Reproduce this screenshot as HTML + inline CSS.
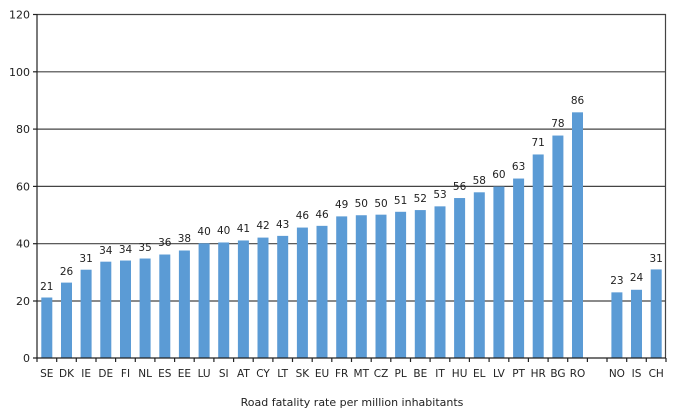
<!DOCTYPE html>
<html><head><meta charset="utf-8"><style>
html,body{margin:0;padding:0;background:#fff;}
svg{display:block;font-family:"DejaVu Sans","Liberation Sans",sans-serif;}
</style></head><body>
<svg width="675" height="410" viewBox="0 0 675 410" xmlns="http://www.w3.org/2000/svg">
<g stroke="#444" stroke-width="1.2">
<line x1="37" y1="14.5" x2="666" y2="14.5"/>
<line x1="37" y1="71.8" x2="666" y2="71.8"/>
<line x1="37" y1="129.1" x2="666" y2="129.1"/>
<line x1="37" y1="186.4" x2="666" y2="186.4"/>
<line x1="37" y1="243.7" x2="666" y2="243.7"/>
<line x1="37" y1="301" x2="666" y2="301"/>
<line x1="665.5" y1="14" x2="665.5" y2="358"/>
</g>
<g transform="translate(0,358) scale(1,-2.8667)" fill="#5b9bd5">
<rect x="41.3" y="0" width="11" height="21.1"/>
<rect x="61" y="0" width="11" height="26.3"/>
<rect x="80.6" y="0" width="11" height="30.8"/>
<rect x="100.3" y="0" width="11" height="33.6"/>
<rect x="120" y="0" width="11" height="34"/>
<rect x="139.6" y="0" width="11" height="34.7"/>
<rect x="159.3" y="0" width="11" height="36.1"/>
<rect x="178.9" y="0" width="11" height="37.5"/>
<rect x="198.6" y="0" width="11" height="40"/>
<rect x="218.2" y="0" width="11" height="40.3"/>
<rect x="237.9" y="0" width="11" height="41"/>
<rect x="257.5" y="0" width="11" height="42"/>
<rect x="277.2" y="0" width="11" height="42.6"/>
<rect x="296.9" y="0" width="11" height="45.5"/>
<rect x="316.5" y="0" width="11" height="46.1"/>
<rect x="336.2" y="0" width="11" height="49.4"/>
<rect x="355.8" y="0" width="11" height="49.8"/>
<rect x="375.5" y="0" width="11" height="50"/>
<rect x="395.1" y="0" width="11" height="51"/>
<rect x="414.8" y="0" width="11" height="51.6"/>
<rect x="434.5" y="0" width="11" height="52.9"/>
<rect x="454.1" y="0" width="11" height="55.8"/>
<rect x="473.8" y="0" width="11" height="57.8"/>
<rect x="493.4" y="0" width="11" height="59.8"/>
<rect x="513.1" y="0" width="11" height="62.6"/>
<rect x="532.7" y="0" width="11" height="71"/>
<rect x="552.4" y="0" width="11" height="77.6"/>
<rect x="572" y="0" width="11" height="85.7"/>
<rect x="611.4" y="0" width="11" height="22.9"/>
<rect x="631" y="0" width="11" height="23.8"/>
<rect x="650.7" y="0" width="11" height="30.9"/>
</g>
<g stroke="#222" stroke-width="1.2">
<line x1="37" y1="14" x2="37" y2="358"/>
<line x1="33" y1="358" x2="666" y2="358"/>
<line x1="33" y1="14.5" x2="37" y2="14.5"/><line x1="33" y1="71.8" x2="37" y2="71.8"/><line x1="33" y1="129.1" x2="37" y2="129.1"/><line x1="33" y1="186.4" x2="37" y2="186.4"/><line x1="33" y1="243.7" x2="37" y2="243.7"/><line x1="33" y1="301" x2="37" y2="301"/>
<path d="M37 358v4M56.7 358v4M76.3 358v4M96 358v4M115.6 358v4M135.3 358v4M154.9 358v4M174.6 358v4M194.2 358v4M213.9 358v4M233.6 358v4M253.2 358v4M272.9 358v4M292.5 358v4M312.2 358v4M331.8 358v4M351.5 358v4M371.2 358v4M390.8 358v4M410.5 358v4M430.1 358v4M449.8 358v4M469.4 358v4M489.1 358v4M508.8 358v4M528.4 358v4M548.1 358v4M567.7 358v4M587.4 358v4M607 358v4M626.7 358v4M646.3 358v4M666 358v4"/>
</g>
<g font-size="11" fill="#222" text-anchor="end">
<text x="30" y="18.5">120</text><text x="30" y="75.8">100</text><text x="30" y="133">80</text><text x="30" y="190.4">60</text><text x="30" y="247.7">40</text><text x="30" y="305">20</text><text x="30" y="362">0</text>
</g>
<g font-size="10.5" fill="#222" text-anchor="middle">
<text x="46.8" y="290">21</text><text x="66.5" y="275">26</text><text x="86.1" y="262">31</text><text x="105.8" y="254">34</text><text x="125.5" y="253">34</text><text x="145.1" y="251">35</text><text x="164.8" y="246">36</text><text x="184.4" y="242">38</text><text x="204.1" y="235">40</text><text x="223.7" y="234">40</text><text x="243.4" y="232">41</text><text x="263" y="229">42</text><text x="282.7" y="228">43</text><text x="302.4" y="219">46</text><text x="322" y="218">46</text><text x="341.7" y="208">49</text><text x="361.3" y="207">50</text><text x="381" y="207">50</text><text x="400.6" y="204">51</text><text x="420.3" y="202">52</text><text x="440" y="198">53</text><text x="459.6" y="190">56</text><text x="479.3" y="184">58</text><text x="498.9" y="178">60</text><text x="518.6" y="170">63</text><text x="538.2" y="146">71</text><text x="557.9" y="127">78</text><text x="577.5" y="104">86</text><text x="616.9" y="284">23</text><text x="636.5" y="281">24</text><text x="656.2" y="262">31</text>
</g>
<g font-size="10.5" fill="#222" text-anchor="middle">
<text x="46.8" y="377">SE</text><text x="66.5" y="377">DK</text><text x="86.1" y="377">IE</text><text x="105.8" y="377">DE</text><text x="125.5" y="377">FI</text><text x="145.1" y="377">NL</text><text x="164.8" y="377">ES</text><text x="184.4" y="377">EE</text><text x="204.1" y="377">LU</text><text x="223.7" y="377">SI</text><text x="243.4" y="377">AT</text><text x="263" y="377">CY</text><text x="282.7" y="377">LT</text><text x="302.4" y="377">SK</text><text x="322" y="377">EU</text><text x="341.7" y="377">FR</text><text x="361.3" y="377">MT</text><text x="381" y="377">CZ</text><text x="400.6" y="377">PL</text><text x="420.3" y="377">BE</text><text x="440" y="377">IT</text><text x="459.6" y="377">HU</text><text x="479.3" y="377">EL</text><text x="498.9" y="377">LV</text><text x="518.6" y="377">PT</text><text x="538.2" y="377">HR</text><text x="557.9" y="377">BG</text><text x="577.5" y="377">RO</text><text x="616.9" y="377">NO</text><text x="636.5" y="377">IS</text><text x="656.2" y="377">CH</text>
<text x="352" y="406" font-size="11">Road fatality rate per million inhabitants</text>
</g>
</svg>
</body></html>
